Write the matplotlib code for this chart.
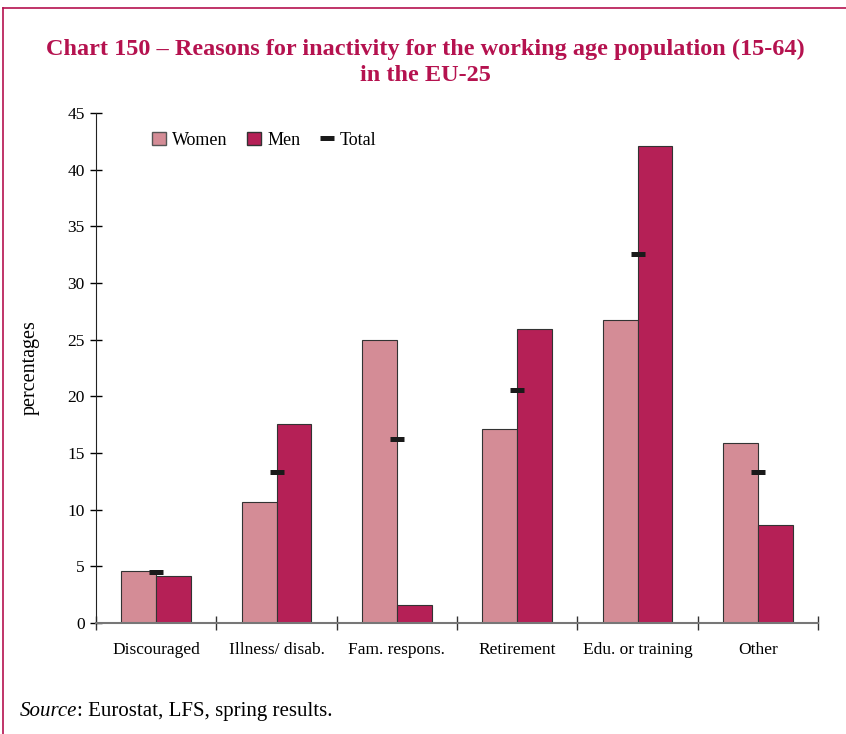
import numpy as np
import matplotlib
matplotlib.use("Agg")
import matplotlib.pyplot as plt
from matplotlib.lines import Line2D
from matplotlib.patches import Patch

plt.rcParams['font.family'] = ['Liberation Serif', 'DejaVu Serif']

categories = ["Discouraged", "Illness/ disab.", "Fam. respons.", "Retirement",
              "Edu. or training", "Other"]
women = [4.6, 10.7, 25.0, 17.1, 26.7, 15.9]
men = [4.15, 17.6, 1.6, 25.9, 42.1, 8.65]
total = [4.5, 13.3, 16.2, 20.6, 32.6, 13.3]

women_col = "#D48C96"
men_col = "#B52056"
title_col = "#B5124F"

fig = plt.figure(figsize=(8.46, 7.34), dpi=100)
ax = fig.add_axes([0.1135, 0.1512, 0.8535, 0.6948])

x = np.arange(len(categories))
w = 0.29
ax.bar(x - w / 2, women, w, color=women_col, edgecolor="#333333", linewidth=0.8)
ax.bar(x + w / 2, men, w, color=men_col, edgecolor="#333333", linewidth=0.8)
ax.plot(x, total, linestyle="none", marker="_", markersize=10.5, markeredgewidth=3.6,
        color="#1a1a1a")

ax.set_xlim(-0.5, len(categories) - 0.5)
ax.set_ylim(0, 45)
ax.set_yticks(range(0, 50, 5))
# major ticks at the group boundaries, labels on minor ticks at the centres
ax.set_xticks(np.arange(-0.5, len(categories), 1.0))
ax.set_xticklabels([])
ax.set_xticks(x, minor=True)
ax.set_xticklabels(categories, minor=True, fontsize=12.5)
ax.tick_params(axis="x", which="minor", length=0, pad=14)
ax.tick_params(axis="x", which="major", direction="inout", length=10, width=1,
               color="#333333")
ax.tick_params(axis="y", direction="inout", length=8, width=1, labelsize=12.5, pad=4)

for s in ["top", "right"]:
    ax.spines[s].set_visible(False)
ax.spines["left"].set_color("#222222")
ax.spines["bottom"].set_color("#777777")
ax.spines["bottom"].set_linewidth(1.5)

ax.set_ylabel("percentages", fontsize=14.5, labelpad=20)

handles = [Patch(facecolor=women_col, edgecolor="#555555"),
           Patch(facecolor=men_col, edgecolor="#333333"),
           Line2D([], [], linestyle="none", marker="_", markersize=10.5,
                  markeredgewidth=3.6, color="#1a1a1a")]
ax.legend(handles, ["Women", "Men", "Total"], loc="upper left",
          bbox_to_anchor=(0.055, 0.995), ncol=3, frameon=False, fontsize=13,
          handlelength=0.75, handleheight=0.75, handletextpad=0.35, columnspacing=1.1)

fig.text(0.503, 0.915, "Chart 150 – Reasons for inactivity for the working age population (15-64)\nin the EU-25",
         ha="center", va="center", fontsize=17.5, fontweight="bold", color=title_col,
         linespacing=1.3)

src = fig.text(0.023, 0.031, "Source", fontsize=15, style="italic", va="center")
ax.annotate(": Eurostat, LFS, spring results.", xy=(1, 0.5), xycoords=src,
            va="center", ha="left", fontsize=15)

# frame lines
fig.add_artist(Line2D([0.004, 1.0], [0.989, 0.989], color=title_col, linewidth=1.2))
fig.add_artist(Line2D([0.004, 0.004], [0.0, 0.989], color=title_col, linewidth=1.2))

fig.savefig("out.png", dpi=100)
